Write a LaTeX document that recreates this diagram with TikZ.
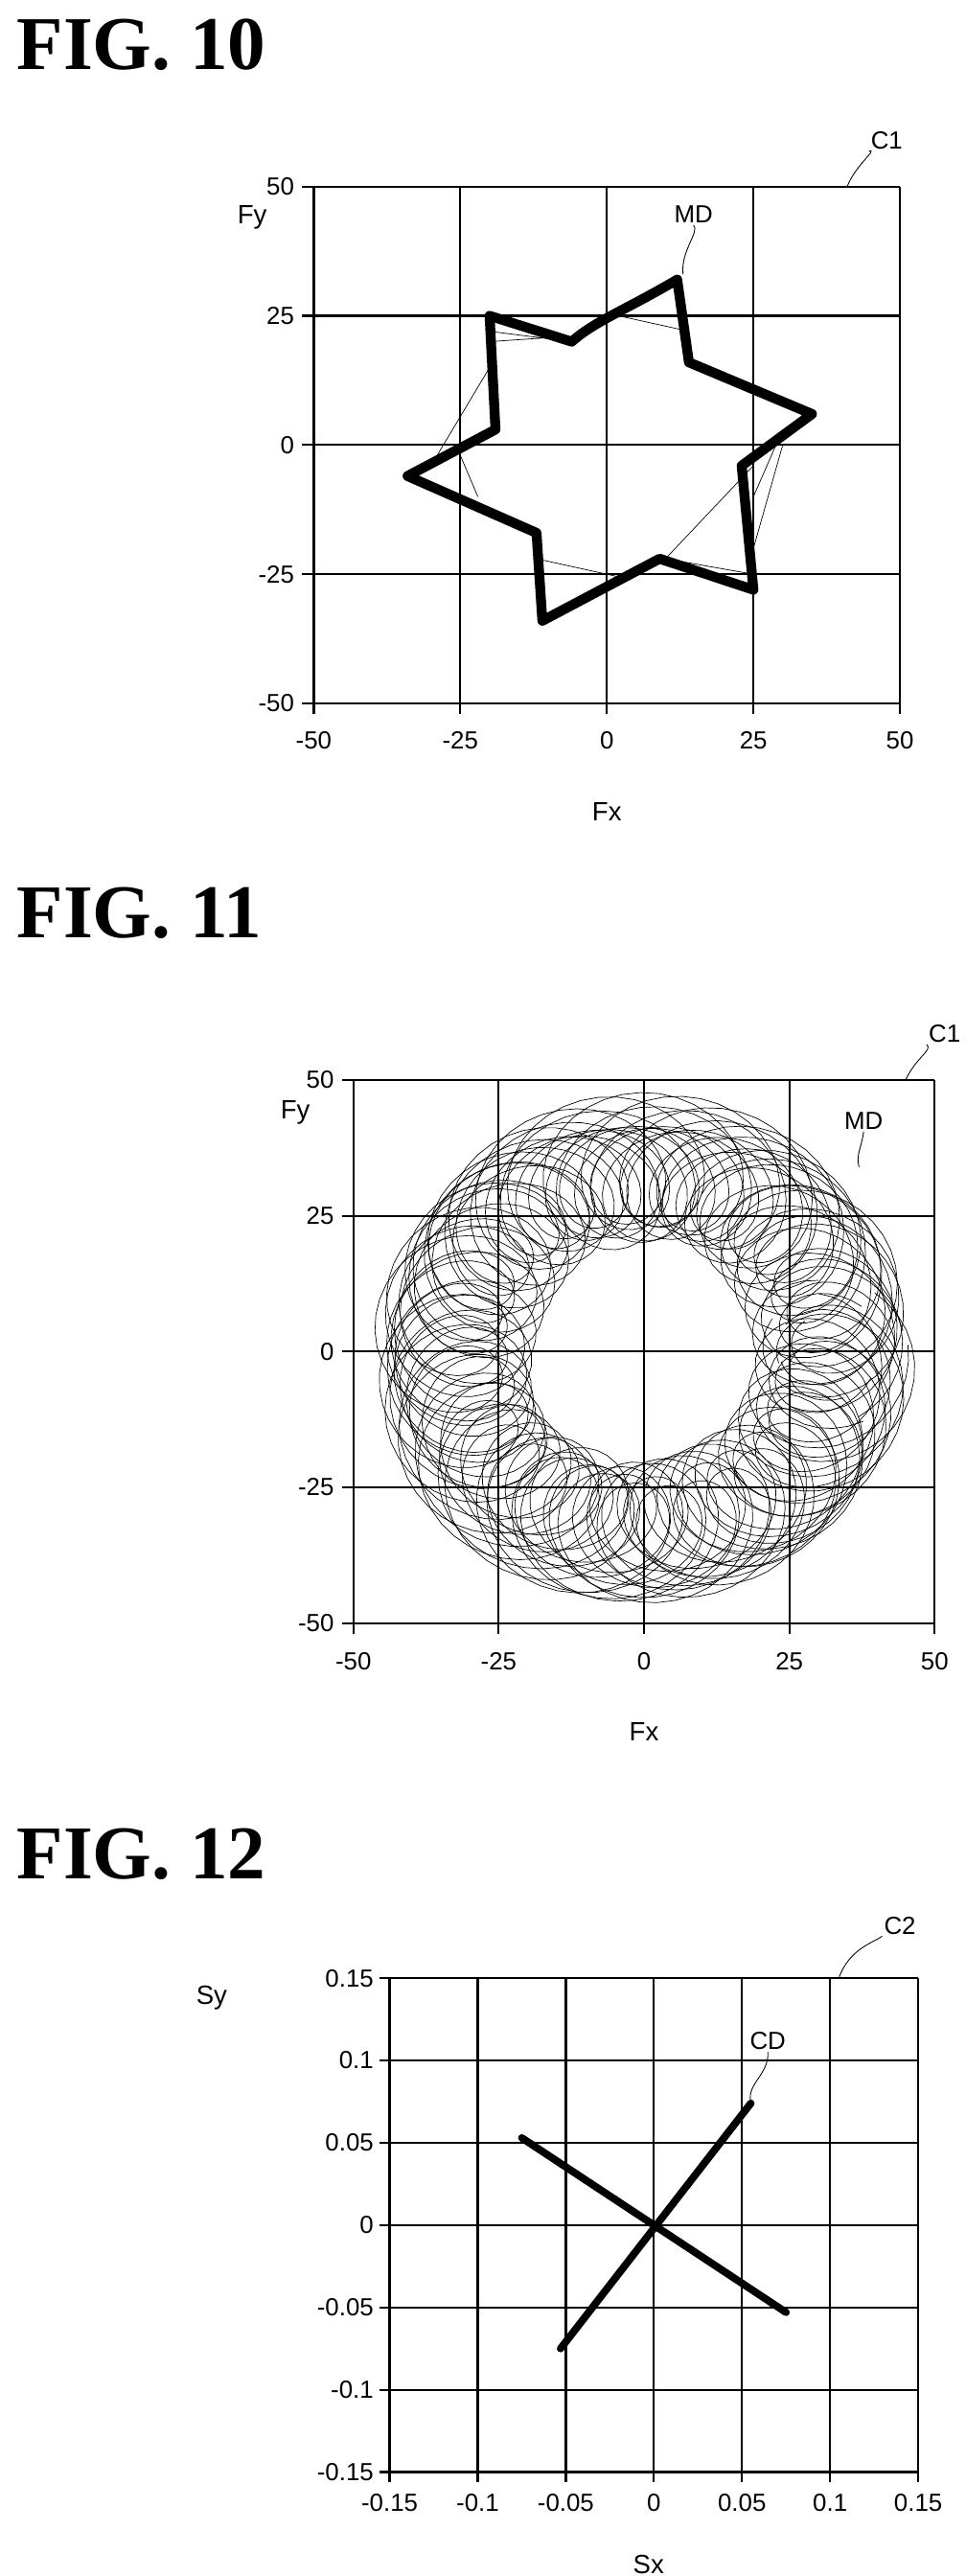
\documentclass[tikz,border=0pt]{standalone}
\usepackage{fontspec}
\setmainfont{Liberation Sans}
\newfontfamily\figfont{Liberation Serif}
\usetikzlibrary{calc}
\tikzset{
  figtitle/.style={anchor=west, font=\figfont\bfseries\fontsize{46}{46}\selectfont, inner sep=0pt},
  ticklab/.style={font=\fontsize{15}{15}\selectfont, inner sep=1pt},
  axlab/.style={font=\fontsize{16}{16}\selectfont, inner sep=1pt},
  reflab/.style={font=\fontsize{15}{15}\selectfont, inner sep=1pt},
  gridline/.style={line width=1.3pt},
  leader/.style={line width=0.5pt},
  trace/.style={line width=6pt, line join=round, line cap=round},
  thin trace/.style={line width=0.4pt}
}
\begin{document}
\begin{tikzpicture}[x=1pt, y=1pt]
\useasboundingbox (0,0) rectangle (585,-1560);

%% FIG. 10
\node [figtitle] (t10) at (10,-27) {FIG. 10};
\begin{scope}[shift={(367.5,-269.5)}, x=3.55pt, y=3.13pt]
  \foreach \v in {-50,-25,...,50} {
    \draw [gridline] (\v,-50) -- (\v,50);
    \draw [gridline] (-50,\v) -- (50,\v);
    \draw [gridline] (\v,-50) -- (\v,-52);
    \draw [gridline] (-50,\v) -- (-52,\v);
    \node [ticklab, anchor=east] (ya\v) at (-53,\v) {\v};
    \node [ticklab, anchor=north] (xa\v) at (\v,-55) {\v};
  }
  \node [axlab] (fy10) at (-60.5,44) {Fy};
  \node [axlab] (fx10) at (0,-71) {Fx};
  % thin stray traces
  \draw [thin trace] (-20,22) -- (-6,20) (-20,20) -- (-7,21) (-30,-4) -- (-20,15)
        (24,-3) -- (33,5) (25,-10) -- (30,3) (25,-20) -- (30,0) (10,-22) -- (25,-4)
        (10,-22) -- (25,-25) (-12,-22) -- (4,-26) (2,25) -- (14,22) (-25,-2) -- (-22,-10);
  \draw [trace] (12,32) -- (14,16) -- (35,6) -- (23,-4) -- (25,-28) -- (9,-22)
        -- (-11,-34) -- (-12,-17) -- (-34,-6) -- (-19,3) -- (-20,25) -- (-6,20)
        .. controls (-2,24) and (3,26) .. cycle;
  \coordinate (md10p) at (13,33);
  \coordinate (c1p10) at (41,50);
\end{scope}
\node [reflab] (md10) at (420,-130) {MD};
\node [reflab] (c110) at (537,-85) {C1};
\draw [leader] (md10p) .. controls (412,-152) and (424,-140) .. (md10.south);
\draw [leader] (c1p10) .. controls (518,-100) and (532,-90) .. (c110.south west);

%% FIG. 11
\node [figtitle] (t11) at (10,-553) {FIG. 11};
\begin{scope}[shift={(390,-818.5)}, x=3.52pt, y=3.29pt]
  \foreach \k in {0,...,9} {
    \draw [thin trace] plot [domain=0:360, samples=420]
      ({(33+1.2*cos(2*\x+\k*37))*cos(\x) + (11+2.5*sin(5*\x+\k*71))*cos(13.37*\x+20+\k*133.2)},
       {(33+1.2*cos(2*\x+\k*37))*sin(\x) + (11+2.5*sin(5*\x+\k*71))*sin(13.37*\x+20+\k*133.2)});
  }
  \foreach \v in {-50,-25,...,50} {
    \draw [gridline] (\v,-50) -- (\v,50);
    \draw [gridline] (-50,\v) -- (50,\v);
    \draw [gridline] (\v,-50) -- (\v,-52);
    \draw [gridline] (-50,\v) -- (-52,\v);
    \node [ticklab, anchor=east] (yb\v) at (-53,\v) {\v};
    \node [ticklab, anchor=north] (xb\v) at (\v,-55) {\v};
  }
  \node [axlab] (fy11) at (-60,44) {Fy};
  \node [axlab] (fx11) at (0,-70) {Fx};
  \coordinate (md11p) at (37,34);
  \coordinate (c1p11) at (45,50);
\end{scope}
\node [reflab] (md11) at (523,-679) {MD};
\node [reflab] (c111) at (572,-626) {C1};
\draw [leader] (md11p) .. controls (518,-700) and (522,-694) .. (md11.south);
\draw [leader] (c1p11) .. controls (555,-640) and (565,-636) .. (c111.south west);

%% FIG. 12
\node [figtitle] (t12) at (10,-1123) {FIG. 12};
\begin{scope}[shift={(396,-1347.5)}, x=1067pt, y=997pt]
  \foreach \v/\lab in {-0.15/-0.15,-0.1/-0.1,-0.05/-0.05,0/0,0.05/0.05,0.1/0.1,0.15/0.15} {
    \draw [gridline] (\v,-0.15) -- (\v,0.15);
    \draw [gridline] (-0.15,\v) -- (0.15,\v);
    \draw [gridline] (\v,-0.15) -- (\v,-0.156);
    \draw [gridline] (-0.15,\v) -- (-0.156,\v);
    \node [ticklab, anchor=east] (yc\lab) at (-0.158,\v) {\lab};
    \node [ticklab, anchor=north] (xc\lab) at (\v,-0.162) {\lab};
  }
  \node [axlab] (sy12) at (-0.251,0.138) {Sy};
  \node [axlab] (sx12) at (-0.003,-0.206) {Sx};
  \draw [line width=4.5pt, line cap=round] (-0.053,-0.075) -- (0.055,0.074);
  \draw [line width=4.5pt, line cap=round] (-0.075,0.053) -- (0.075,-0.053);
  \coordinate (cd12p) at (0.055,0.075);
  \coordinate (c2p12) at (0.105,0.15);
\end{scope}
\node [reflab] (cd12) at (465,-1236) {CD};
\node [reflab] (c212) at (545,-1166) {C2};
\draw [leader] (cd12p) .. controls (452,-1262) and (466,-1256) .. (cd12.south);
\draw [leader] (c2p12) .. controls (514,-1180) and (530,-1176) .. (c212.south west);
\end{tikzpicture}
\end{document}
